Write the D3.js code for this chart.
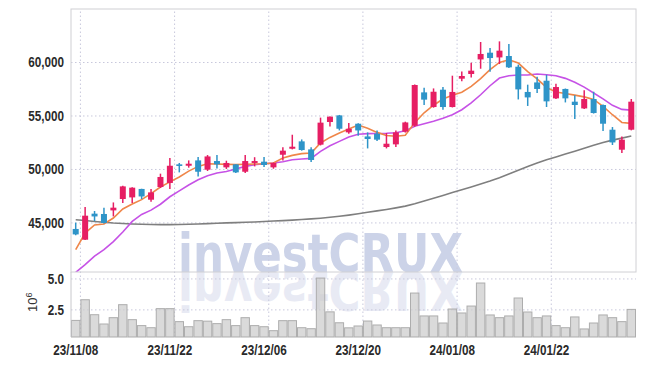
<!DOCTYPE html>
<html>
<head>
<meta charset="utf-8">
<script src="https://cdn.jsdelivr.net/npm/d3@7"></script>
<style>
  body { margin: 0; background: #fff; }
  svg { display: block; }
  .axis text { font-family: "Liberation Sans", Arial, sans-serif; font-size: 15px; font-weight: bold; fill: #2a2a2a; }
  .grid line { stroke: #c8c8dc; stroke-dasharray: 1.5,2.5; }
  .grid path, .axis path { display: none; }
</style>
</head>
<body>
<div id="chart"></div>
<script>
// trading days shown (yy/mm/dd)
const dates = [
  "23/11/08","23/11/09","23/11/10","23/11/13","23/11/14","23/11/15","23/11/16","23/11/17","23/11/20","23/11/21",
  "23/11/22","23/11/23","23/11/24","23/11/27","23/11/28","23/11/29","23/11/30","23/12/01","23/12/04","23/12/05",
  "23/12/06","23/12/07","23/12/08","23/12/11","23/12/12","23/12/13","23/12/14","23/12/15","23/12/18","23/12/19",
  "23/12/20","23/12/21","23/12/22","23/12/26","23/12/27","23/12/28","24/01/02","24/01/03","24/01/04","24/01/05",
  "24/01/08","24/01/09","24/01/10","24/01/11","24/01/12","24/01/15","24/01/16","24/01/17","24/01/18","24/01/19",
  "24/01/22","24/01/23","24/01/24","24/01/25","24/01/26","24/01/29","24/01/30","24/01/31","24/02/01","24/02/02"
];

const opens = [44390,43385,45820,45790,46125,47190,47340,48130,47125,48310,
  48690,50430,50300,50800,49930,50740,50150,50430,49740,50560,
  50680,50150,51330,51890,52580,51830,52270,54390,55010,53420,
  54230,53040,53300,52050,52300,53480,54040,57160,55790,57410,
  55790,58440,58880,60240,60870,60430,60560,59560,57200,58090,
  58250,56600,57480,56290,55660,56540,55980,53670,51800,53670];
const highs = [44980,46440,46070,46380,46870,48430,48300,48150,48130,49560,
  51020,50560,50800,51120,51300,51300,50770,50450,51300,51100,
  51120,50600,52020,53200,52760,52020,54800,54900,55050,54300,
  54280,53420,53600,53360,53600,54420,57900,57600,57530,57660,
  58720,59120,59930,61870,61300,61930,61680,59750,57880,58630,
  58810,57970,57520,56900,57350,57220,56020,53920,53040,56540];
const lows = [43800,43350,45130,44900,45560,46820,46820,47190,46940,48220,
  48130,49680,50120,49300,49810,50050,50000,49620,49620,50240,
  50180,50020,50800,51830,51710,50650,52200,53980,53600,53300,
  53110,51920,52610,51920,52050,53400,53950,55980,55730,55540,
  55750,58190,58560,59370,59090,59810,59440,56500,55890,57100,
  55790,56540,56220,54670,55610,55180,53550,52240,51490,53610];
const closes = [43880,45630,45560,44950,46380,48370,48250,47430,47810,49250,
  50300,50280,50490,49740,51170,50430,50560,49680,50740,50740,
  50370,50560,51710,52080,51770,50840,54330,54890,53760,53760,
  53600,52800,52740,52360,53420,54350,57850,56480,57220,55790,
  57200,58690,59190,60750,60370,61060,59500,57440,56690,57480,
  56320,57660,56600,55980,56540,55230,54230,52480,52740,56290];

// volume, in millions of shares
const volume = [1.61,3.28,2.07,1.32,1.83,2.88,1.67,1.19,1.02,2.56,
  2.56,1.51,1.10,1.59,1.55,1.35,1.67,1.19,1.83,1.19,
  1.10,0.78,1.59,1.59,1.02,0.94,5.03,2.30,1.42,1.01,
  1.16,1.56,1.24,1.02,1.02,1.02,3.82,1.97,1.97,1.40,
  2.53,2.21,2.77,4.63,2.05,1.83,1.97,3.42,2.29,1.83,
  1.97,1.19,1.02,1.89,0.92,1.40,2.05,1.83,1.51,2.50];

// moving averages
const ma5 = [42450,44010,44760,44850,45410,46260,46720,47130,47690,48310,
  48790,49250,49800,50240,50490,50460,50430,50410,50430,50460,
  50490,50560,51020,51270,51430,51490,52430,52950,53360,53740,
  54100,53800,53420,53130,53060,53150,54330,55250,55960,56540,
  56900,57180,57720,58440,59280,59960,60210,59900,59100,58420,
  57620,57200,57050,56900,56740,56500,55850,55070,54350,54260];
const ma20 = [40330,41050,41850,42450,43200,44100,45100,45750,46150,46700,
  47400,47950,48500,48990,49370,49620,49770,49990,50240,50400,
  50490,50560,50680,50860,50930,50990,51640,52170,52580,52990,
  53250,53300,53320,53340,53390,53580,54000,54230,54460,54750,
  55070,55540,56170,56940,57780,58500,58720,58780,58790,58880,
  58810,58720,58470,58100,57650,57100,56550,55950,55570,55500];
const ma120 = [45255,45180,45087,45012,44946,44900,44853,44825,44806,44797,
  44797,44806,44825,44853,44890,44928,44956,44984,45012,45040,
  45087,45133,45171,45218,45274,45330,45395,45479,45573,45685,
  45816,45947,46078,46209,46358,46527,46751,47003,47265,47527,
  47798,48060,48322,48593,48864,49182,49528,49883,50239,50556,
  50865,51127,51389,51650,51931,52211,52483,52698,52885,53081];

const priceTicks = [45000, 50000, 55000, 60000];
const volTicks = [2.5, 5.0];
const dateTicks = [0, 10, 20, 30, 40, 50];

const W = 645, H = 366;
const plotLeft = 71, plotRight = 636, plotTop = 9, mainBottom = 272, volBottom = 337;
const narrow = 0.78;

const svg = d3.select('#chart').append('svg').attr('width', W).attr('height', H);

const x = d3.scaleBand().domain(d3.range(dates.length)).range([plotLeft, plotRight]).padding(0);
const cx = i => x(i) + x.bandwidth() / 2;
const y = d3.scaleLinear().domain([40365, 64956]).range([mainBottom, plotTop]);
const yv = d3.scaleLinear().domain([0.27, 5.52]).range([volBottom, mainBottom]);

svg.append('clipPath').attr('id', 'mainClip')
  .append('rect').attr('x', plotLeft).attr('y', plotTop).attr('width', plotRight - plotLeft).attr('height', mainBottom - plotTop);
svg.append('clipPath').attr('id', 'volClip')
  .append('rect').attr('x', plotLeft).attr('y', mainBottom).attr('width', plotRight - plotLeft).attr('height', volBottom - mainBottom);

// watermark + its mirror image under the baseline
const mark = (g, fill) => g.append('text')
  .attr('x', 178).attr('y', mainBottom)
  .attr('textLength', 285).attr('lengthAdjust', 'spacingAndGlyphs')
  .style('font-family', '"DejaVu Sans", sans-serif')
  .style('font-weight', 'bold').style('font-size', '54px')
  .style('fill', fill)
  .text('investCRUX');
mark(svg, '#ccd3e8');
mark(svg.append('g').attr('clip-path', 'url(#volClip)'), '#e8eaf4')
  .attr('transform', `translate(0,${2 * mainBottom}) scale(1,-1)`);

// grids
svg.append('g').attr('class', 'grid')
  .attr('transform', `translate(${plotLeft},0)`)
  .call(d3.axisLeft(y).tickValues(priceTicks).tickSize(-(plotRight - plotLeft)).tickFormat(''));
svg.append('g').attr('class', 'grid')
  .attr('transform', `translate(${plotLeft},0)`)
  .call(d3.axisLeft(yv).tickValues(volTicks).tickSize(-(plotRight - plotLeft)).tickFormat(''));
svg.append('g').attr('class', 'grid')
  .attr('transform', `translate(0,${volBottom})`)
  .call(d3.axisBottom(x).tickValues(dateTicks).tickSize(-(volBottom - plotTop)).tickFormat(''))
  .selectAll('line').attr('transform', `translate(${x.bandwidth() / 2},0)`);

// volume bars
svg.append('g').selectAll('rect').data(volume).join('rect')
  .attr('x', (d, i) => x(i) + 0.5)
  .attr('y', d => yv(d))
  .attr('width', x.bandwidth() - 1)
  .attr('height', d => volBottom - yv(d))
  .attr('fill', 'rgba(204,204,204,0.72)')
  .attr('stroke', '#adadad').attr('stroke-width', 1);

// moving averages
const line = d3.line().x((d, i) => cx(i)).y(d => y(d));
const maG = svg.append('g').attr('clip-path', 'url(#mainClip)');
[[ma120, '#7f7f7f'], [ma20, '#c652e6'], [ma5, '#ef8649']].forEach(([s, c]) => {
  maG.append('path').datum(s).attr('d', line)
    .attr('fill', 'none').attr('stroke', c).attr('stroke-width', 1.6);
});

// candles
const up = '#e61e63', down = '#2e94c8';
const candles = svg.append('g').selectAll('g').data(d3.range(dates.length)).join('g');
candles.append('line')
  .attr('x1', cx).attr('x2', cx)
  .attr('y1', i => y(highs[i])).attr('y2', i => y(lows[i]))
  .attr('stroke', i => closes[i] >= opens[i] ? up : down).attr('stroke-width', 1.5);
candles.append('rect')
  .attr('x', i => cx(i) - 3)
  .attr('width', 6)
  .attr('y', i => y(Math.max(opens[i], closes[i])))
  .attr('height', i => Math.max(1.5, Math.abs(y(opens[i]) - y(closes[i]))))
  .attr('fill', i => closes[i] >= opens[i] ? up : down);

// frames
svg.append('rect').attr('x', plotLeft).attr('y', plotTop).attr('width', plotRight - plotLeft).attr('height', mainBottom - plotTop)
  .attr('fill', 'none').attr('stroke', '#d0d0d4');
svg.append('line').attr('x1', plotLeft).attr('x2', plotLeft).attr('y1', mainBottom).attr('y2', volBottom)
  .attr('stroke', '#c8c8cc');

// axes (narrowed glyphs)
svg.append('g').attr('class', 'axis')
  .attr('transform', `translate(${plotLeft},0)`)
  .call(d3.axisLeft(y).tickValues(priceTicks).tickFormat(d3.format(',')).tickSize(0).tickPadding(7))
  .selectAll('text').attr('transform', `scale(${narrow},1)`).attr('x', -7 / narrow);
svg.append('g').attr('class', 'axis')
  .attr('transform', `translate(${plotLeft},0)`)
  .call(d3.axisLeft(yv).tickValues(volTicks).tickFormat(d3.format('.1f')).tickSize(0).tickPadding(7))
  .selectAll('text').attr('transform', `scale(${narrow},1)`).attr('x', -7 / narrow);
svg.append('g').attr('class', 'axis')
  .attr('transform', `translate(0,${volBottom})`)
  .call(d3.axisBottom(x).tickValues(dateTicks).tickFormat(i => dates[i]).tickSize(0).tickPadding(7))
  .selectAll('text').attr('transform', `scale(${narrow},1)`);

const unit = svg.append('text')
  .attr('transform', 'translate(37,312) rotate(-90)')
  .style('font-family', '"Liberation Sans", Arial, sans-serif')
  .style('font-size', '13px').style('fill', '#333');
unit.append('tspan').text('10');
unit.append('tspan').attr('dy', -5).style('font-size', '9px').text('6');
</script>
</body>
</html>
